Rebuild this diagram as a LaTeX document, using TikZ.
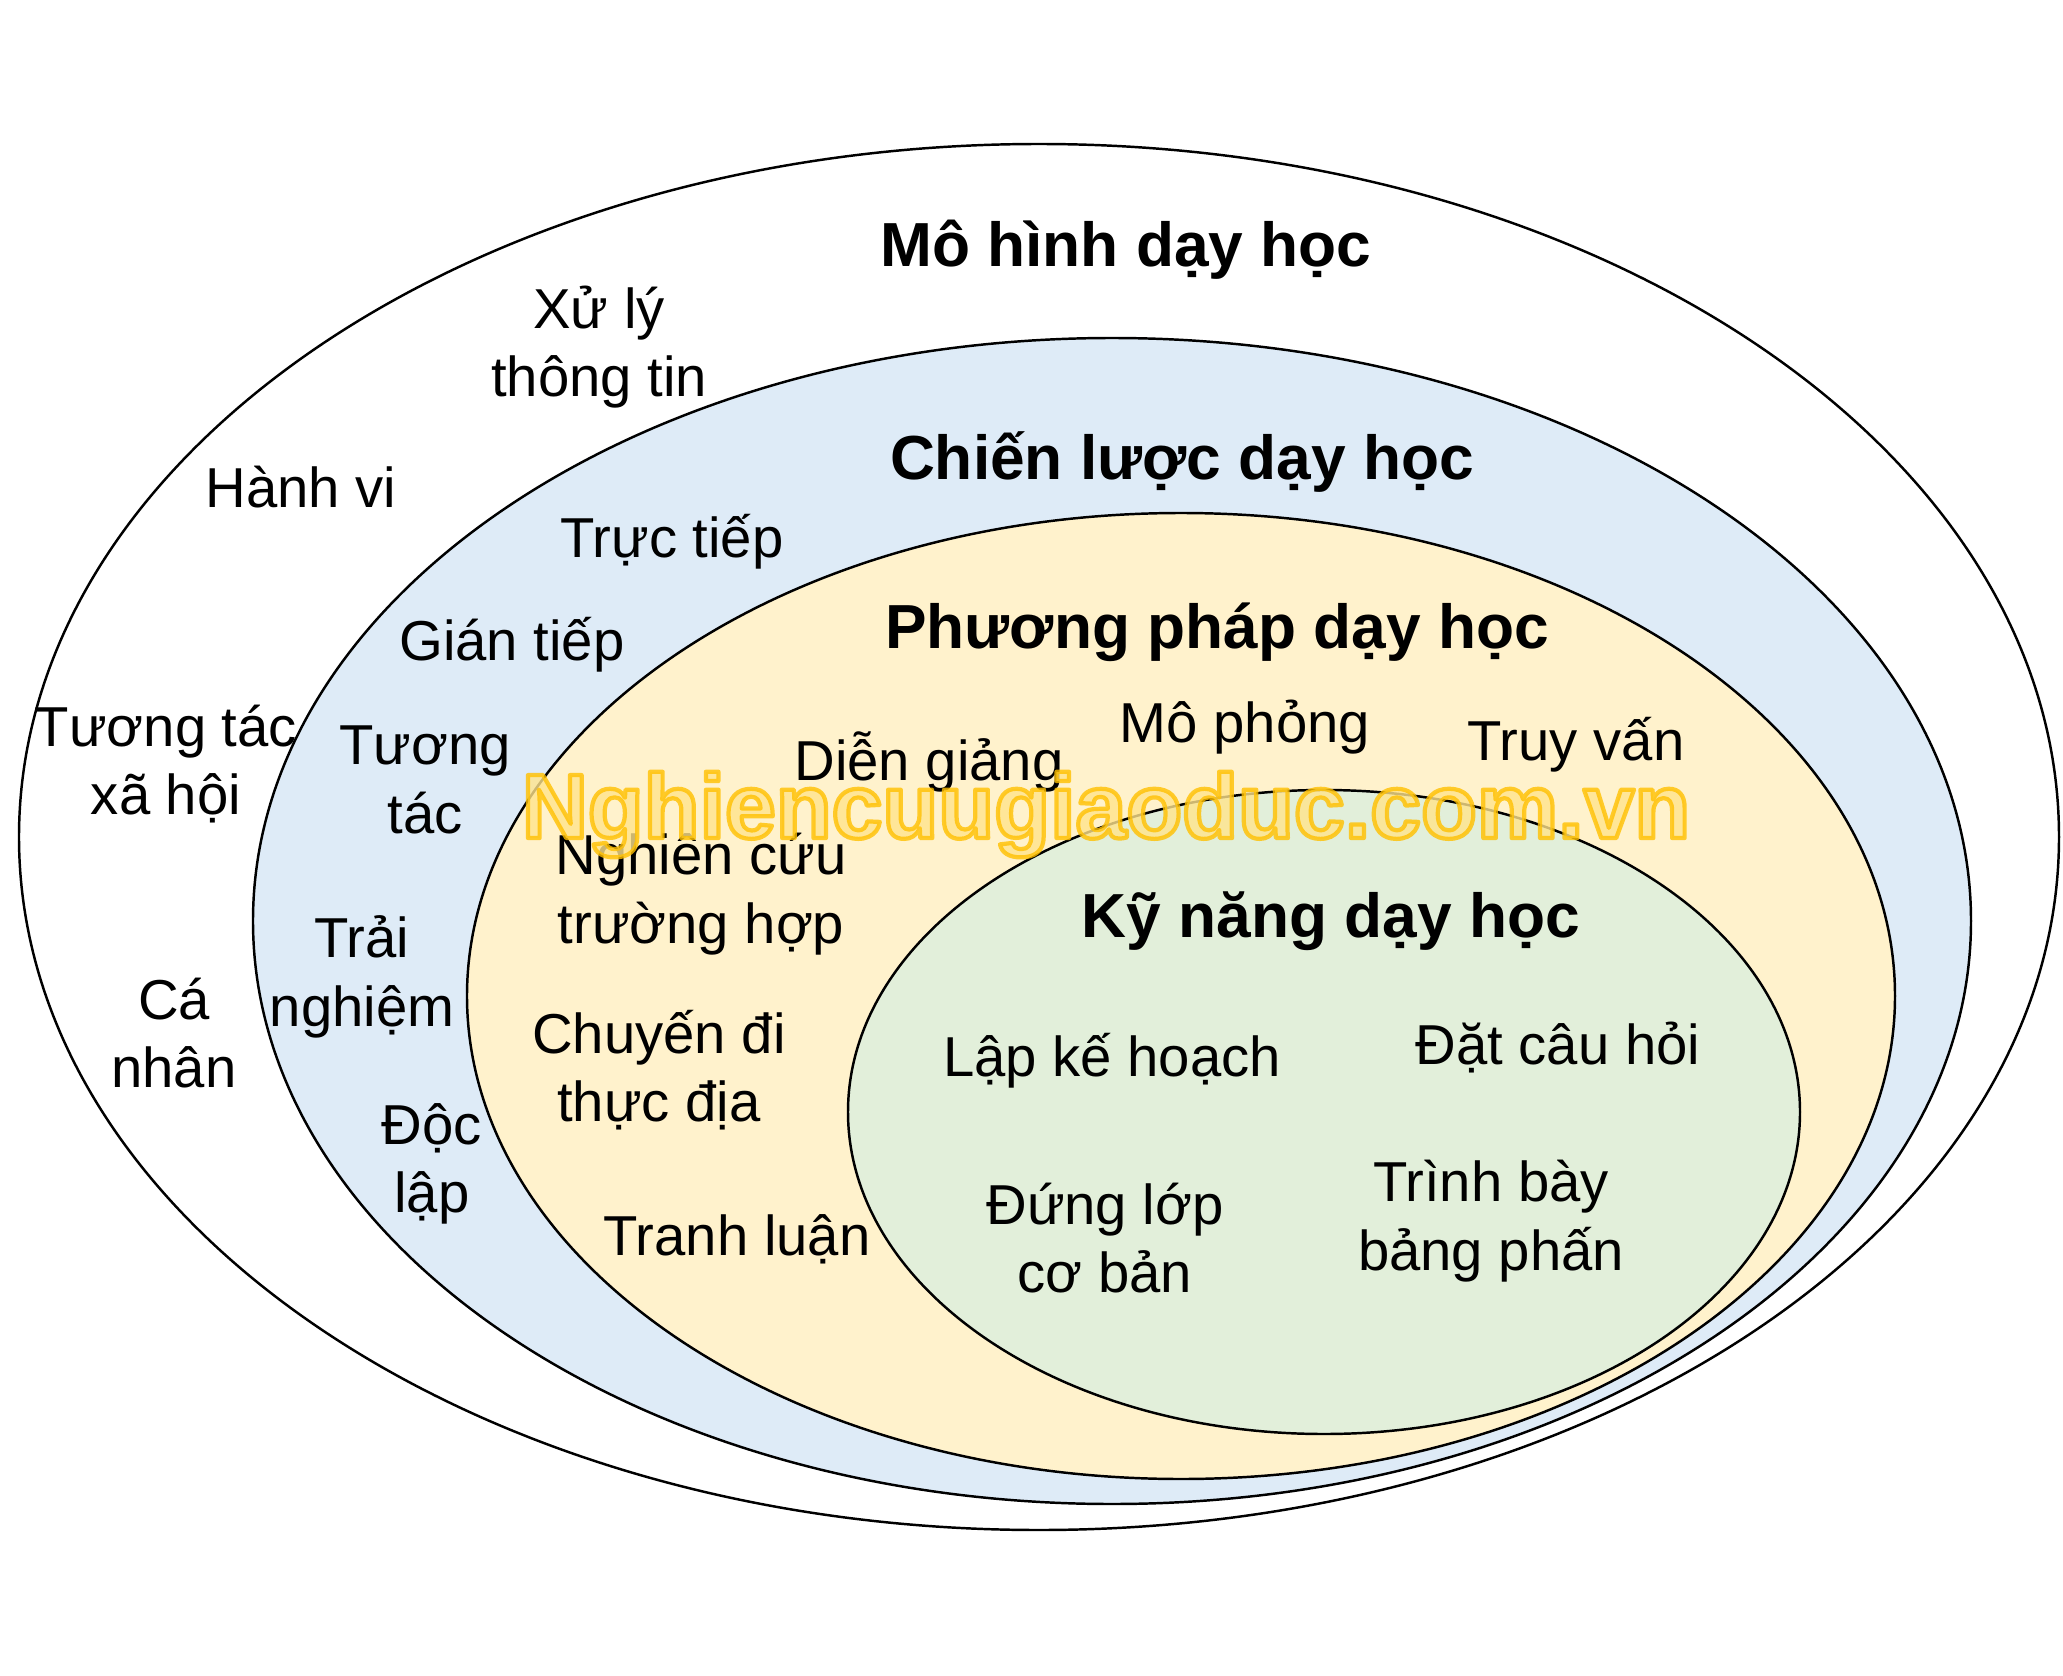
\documentclass[tikz,border=0pt]{standalone}
\usepackage{fontspec}
\setmainfont{Liberation Sans}
\definecolor{strategyblue}{HTML}{DEEBF7}
\definecolor{methodyellow}{HTML}{FFF2CC}
\definecolor{skillgreen}{HTML}{E2EFDA}
\definecolor{stampfill}{HTML}{FFE48C}
\tikzstyle{ring}=[draw=black,line width=0.7pt]
\tikzstyle{item}=[align=center,inner sep=0pt,font=\fontsize{16}{19.5}\selectfont]
\tikzstyle{title}=[inner sep=0pt,font=\bfseries\fontsize{17.7}{22}\selectfont]
\tikzstyle{stamp}=[inner sep=0pt,anchor=base,opacity=0.8,text=stampfill,font=\bfseries\fontsize{26}{30}\selectfont]
% outlined text: fill and stroke (render mode 2)
\newcommand{\outlined}[1]{\special{pdf:literal 2 Tr 1 j 1.2 w 1 0.753 0 RG}#1\special{pdf:literal 0 Tr}}

\begin{document}
\begin{tikzpicture}[x=0.01cm,y=-0.01cm]
    \useasboundingbox (0,0) rectangle (2063,1676);
    % Nested ellipses, from the outer one to the inner one
    \foreach \pos/\rx/\ry/\col in {{(1039,837)/1020/693/white},{(1112,921)/859/583/strategyblue},
        {(1181,996)/714/483/methodyellow},{(1324,1112)/476/322/skillgreen}}
        \path[ring,fill=\col] \pos ellipse [x radius=\rx,y radius=\ry];

    % The four level titles
    \foreach \pos/\name/\txt in {{(1126,250)/model/Mô hình dạy học},{(1182,462)/strategy/Chiến lược dạy học},
        {(1217,632)/method/Phương pháp dạy học},{(1331,921)/skill/Kỹ năng dạy học}}
        \node[title] (\name) at \pos {\txt};

    % Items of each level
    \foreach \pos/\name/\txt in {{(599,347)/xuly/{Xử lý\\thông tin}},{(301,487)/hanhvi/Hành vi},
        {(166,764)/xahoi/{Tương tác\\xã hội}},{(174,1033)/canhan/{Cá\\nhân}},
        {(672,542)/tructiep/Trực tiếp},{(512,645)/giantiep/Gián tiếp},
        {(425,780)/tuongtac/{Tương\\tác}},{(362,977)/trainghiem/{Trải\\nghiệm}},
        {(432,1164)/doclap/{Độc\\lập}},
        {(929,762)/diengiang/Diễn giảng},{(1245,727)/mophong/Mô phỏng},
        {(1576,745)/truyvan/Truy vấn},{(701,894)/nghiencuu/{Nghiên cứu\\trường hợp}},
        {(659,1070)/chuyendi/{Chuyến đi\\thực địa}},{(737,1239)/tranhluan/Tranh luận},
        {(1112,1061)/lapkehoach/Lập kế hoạch},{(1558,1048)/datcauhoi/Đặt câu hỏi},
        {(1105,1238)/dunglop/{Đứng lớp\\cơ bản}},{(1491,1221)/trinhbay/{Trình bày\\bảng phấn}}}
        \node[item] (\name) at \pos {\txt};

    % Site stamp across the picture
    \node[stamp] (stamp) at (1106,838) {\outlined{Nghiencuugiaoduc.com.vn}};
\end{tikzpicture}
\end{document}
